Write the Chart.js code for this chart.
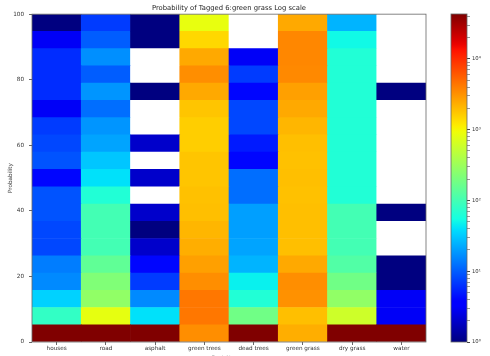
<!DOCTYPE html>
<html><head><meta charset="utf-8">
<script src="https://cdn.jsdelivr.net/npm/chart.js@4/dist/chart.umd.min.js"></script>
<style>
html,body{margin:0;padding:0;background:#fff;}
#wrap{position:relative;width:490px;height:356px;overflow:hidden;}
canvas{position:absolute;left:0;top:0;}
</style></head><body>
<div id="wrap"><canvas id="main" width="490" height="356"></canvas><canvas id="cbar" width="490" height="356"></canvas></div>
<script>
// ---- data (each column listed from the bottom bin (0) to the top bin (100)) ----
const categories = ['houses','road','asphalt','green trees','dead trees','green grass','dry grass','water'];
const houses     = [43000,80,34,16,14,8,8,9,9,4,9,8,7,3,6,6,6,3,1];
const road       = [43000,830,275,220,146,100,100,100,64,40,30,21,18,12,18,10,17,10,7];
const asphalt    = [43000,40,16,7,4,2,1,2,null,2,null,2,null,null,1,null,null,1,1];
const greenTrees = [3300,4300,4300,3300,2700,2300,2100,1900,1850,1780,1780,1600,1600,1780,2450,3300,2450,1430,850];
const deadTrees  = [43000,180,64,47,25,21,20,20,12,12,4,5,8,8,4,7,3,null,null];
const greenGrass = [2300,1900,3200,3300,2450,1900,1900,1900,1850,1900,1850,1900,2100,2450,2700,3500,3600,3600,2450];
const dryGrass   = [43000,600,275,180,120,100,100,100,64,64,64,64,64,64,64,64,64,52,25];
const water      = [43000,3,3,1,1,null,null,1,null,null,null,null,null,null,1,null,null,null,null];
const columns = [houses, road, asphalt, greenTrees, deadTrees, greenGrass, dryGrass, water];
const BIN_COUNT = 19;
const yTicks = [0,20,40,60,80,100];
const cbarTicks  = [1,10,100,1000,10000];
const cbarLabels = ['10⁰','10¹','10²','10³','10⁴'];
const VMIN = 1, VMAX = 43000;
const titleText = 'Probability of Tagged 6:green grass Log scale';

// ---- jet colormap ----
const JR = [[0,0],[0.35,0],[0.66,1],[0.89,1],[1,0.5]];
const JG = [[0,0],[0.125,0],[0.375,1],[0.64,1],[0.91,0],[1,0]];
const JB = [[0,0.5],[0.11,1],[0.34,1],[0.65,0],[1,0]];
function interp(p, t){
  for (let i=1;i<p.length;i++){ if (t<=p[i][0]){ const [x0,y0]=p[i-1],[x1,y1]=p[i]; return y0+(y1-y0)*(t-x0)/(x1-x0);} }
  return p[p.length-1][1];
}
function jet(t){
  t=Math.max(0,Math.min(1,t));
  return 'rgb('+Math.round(255*interp(JR,t))+','+Math.round(255*interp(JG,t))+','+Math.round(255*interp(JB,t))+')';
}
function colorFor(v){
  if (v==null) return '#ffffff';
  return jet(Math.log10(v/VMIN)/Math.log10(VMAX/VMIN));
}

const BIN_H = 100/BIN_COUNT;
const datasets = [];
for (let i=0;i<BIN_COUNT;i++){
  datasets.push({
    data: categories.map(()=>BIN_H),
    backgroundColor: columns.map(c=>colorFor(c[i])),
    borderWidth: 0, barPercentage: 1, categoryPercentage: 1, stack: 's'
  });
}

const frame = {
  id: 'frame',
  afterDraw(chart){
    const {ctx, chartArea:a} = chart;
    ctx.save(); ctx.strokeStyle='#666'; ctx.lineWidth=0.8;
    ctx.strokeRect(a.left, a.top, a.right-a.left, a.bottom-a.top);
    ctx.restore();
  }
};
const FONT = 'DejaVu Sans';
Chart.defaults.font.family = FONT;
Chart.defaults.color = '#333';

new Chart(document.getElementById('main'), {
  type: 'bar',
  data: { labels: categories, datasets },
  options: {
    responsive: false, animation: false, devicePixelRatio: 1,
    layout: { padding: { left: 0, right: 64, top: 0, bottom: 0 } },
    plugins: {
      legend: { display: false }, tooltip: { enabled: false },
      title: { display: true, text: titleText, fullSize: false, color: '#222',
               font: { size: 6.8, weight: 'normal', lineHeight: 1.2 }, padding: { top: 4, bottom: 2 } }
    },
    scales: {
      x: {
        stacked: true,
        afterFit(s){ s.height = 14; },
        grid: { display: true, drawOnChartArea: false, offset: false, tickLength: 3, color: '#666' },
        border: { display: false },
        ticks: { font: { size: 5.7 }, padding: 0.5, maxRotation: 0, autoSkip: false },
        title: { display: true, text: 'Fuel Classes', font: { size: 5.7 }, padding: { top: 0, bottom: -5.5 } }
      },
      y: {
        stacked: true, min: 0, max: 100,
        afterFit(s){ s.width = 32; },
        afterBuildTicks(s){ s.ticks = yTicks.map(v=>({value:v})); },
        grid: { display: true, drawOnChartArea: false, tickLength: 3, color: '#666' },
        border: { display: false },
        ticks: { font: { size: 5.7 }, padding: 5 },
        title: { display: true, text: 'Probability', font: { size: 5.7 }, padding: { top: 7.5, bottom: 0 } }
      }
    }
  },
  plugins: [frame]
});

new Chart(document.getElementById('cbar'), {
  type: 'bar',
  data: { labels: ['cb'], datasets: [{
    data: [[VMIN, VMAX]], barPercentage: 1, categoryPercentage: 1, borderWidth: 0,
    backgroundColor(ctx){
      const a = ctx.chart.chartArea; if (!a) return '#000080';
      const g = ctx.chart.ctx.createLinearGradient(0, a.bottom, 0, a.top);
      for (let k=0;k<=64;k++) g.addColorStop(k/64, jet(k/64));
      return g;
    }
  }]},
  options: {
    responsive: false, animation: false, devicePixelRatio: 1,
    layout: { padding: { left: 451, right: 0, top: 14, bottom: 14 } },
    plugins: { legend: { display: false }, tooltip: { enabled: false }, title: { display: false } },
    scales: {
      x: { display: false },
      y: {
        type: 'logarithmic', position: 'right', min: VMIN, max: VMAX,
        afterFit(s){ s.width = 23; },
        afterBuildTicks(s){
          const t=[]; for (let d=0; d<=4; d++) for (let m=1;m<=9;m++){ const v=m*Math.pow(10,d); if (v<=VMAX) t.push({value:v}); }
          s.ticks = t;
        },
        grid: { display: true, drawOnChartArea: false, tickLength: 3,
                color(ctx){ return ctx.tick && cbarTicks.includes(ctx.tick.value) ? '#444' : '#999'; } },
        border: { display: false },
        ticks: { autoSkip: false, font: { size: 5.3 }, padding: 2,
                 callback(v){ const i = cbarTicks.indexOf(v); return i>=0 ? cbarLabels[i] : ''; } }
      }
    }
  },
  plugins: [frame]
});
</script>
</body></html>
